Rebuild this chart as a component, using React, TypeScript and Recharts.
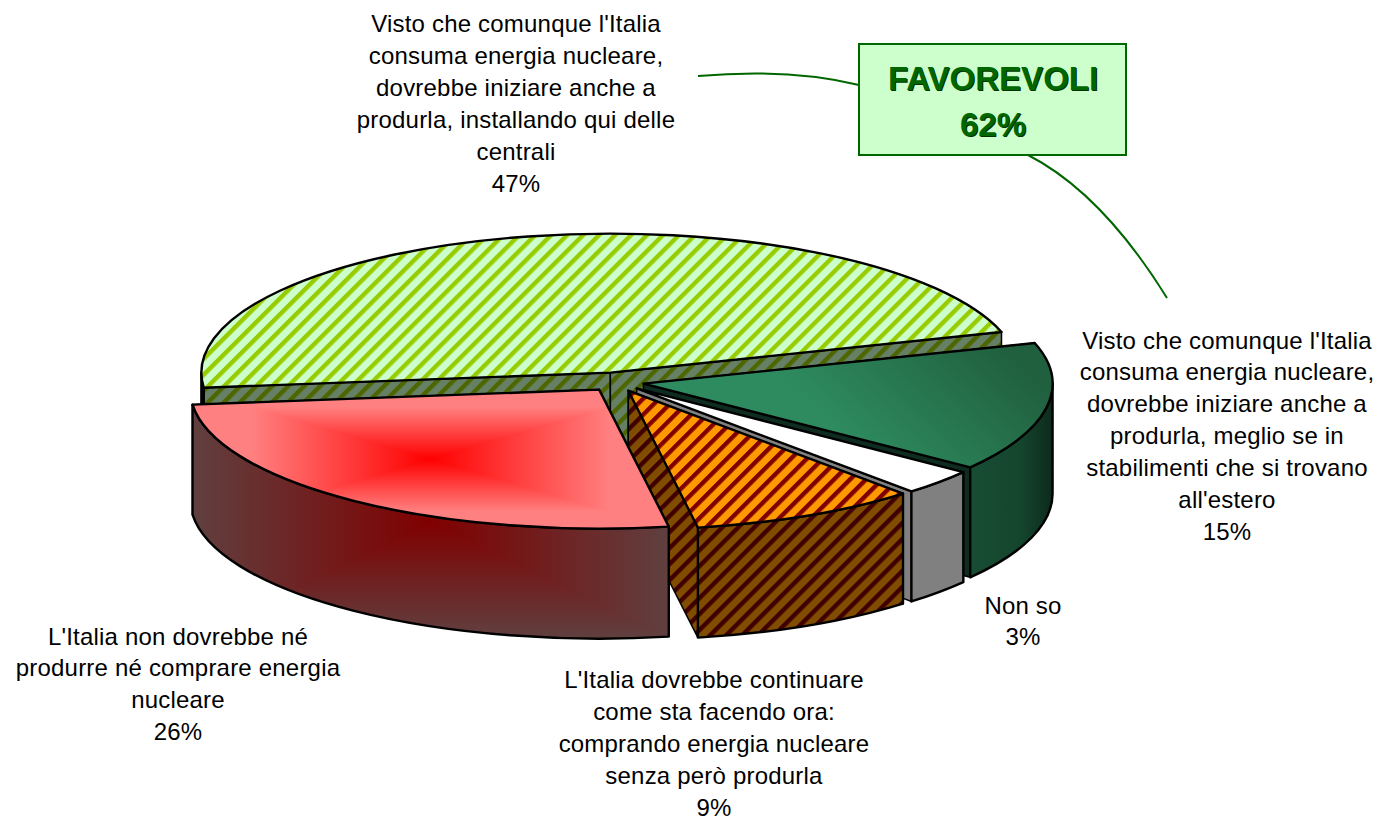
import React from 'react';
import { PieChart, Pie } from 'recharts';

const sliceNames = ['Produrre in Italia', 'Produrre all\'estero', 'Non so', 'Continuare a comprare', 'Né produrre né comprare'];
const sliceValues = [47, 15, 3, 9, 26];
const sliceLabels = [
  ['Visto che comunque l\'Italia', 'consuma energia nucleare,', 'dovrebbe iniziare anche a', 'produrla, installando qui delle', 'centrali', '47%'],
  ['Visto che comunque l\'Italia', 'consuma energia nucleare,', 'dovrebbe iniziare anche a', 'produrla, meglio se in', 'stabilimenti che si trovano', 'all\'estero', '15%'],
  ['Non so', '3%'],
  ['L\'Italia dovrebbe continuare', 'come sta facendo ora:', 'comprando energia nucleare', 'senza però produrla', '9%'],
  ['L\'Italia non dovrebbe né', 'produrre né comprare energia', 'nucleare', '26%'],
];
const calloutLines = ['FAVOREVOLI', '62%'];

const data = sliceNames.map((name, i) => ({ name, value: sliceValues[i] }));

const WIDTH = 1379;
const HEIGHT = 817;
const FONT = '"Liberation Sans", Arial, sans-serif';
const TILT = 0.34;
const DEPTH = 110;
const EXPLODE = 28;

const labelAnchors = [
  { x: 516, y: 32 },
  { x: 1227, y: 348.5 },
  { x: 1023, y: 613.5 },
  { x: 714, y: 688 },
  { x: 178, y: 644.5 },
];

type Paint = { top: string; wall: string; face: string };
const paints: Paint[] = [
  { top: 'url(#hatchGreen)', wall: 'url(#hatchGreenDark)', face: 'url(#hatchGreenDark)' },
  { top: 'url(#greenTop)', wall: 'url(#greenWall)', face: '#0e2d20' },
  { top: '#ffffff', wall: '#808080', face: '#808080' },
  { top: 'url(#hatchOrange)', wall: 'url(#hatchBrown)', face: 'url(#hatchBrown)' },
  { top: 'path:#ff0000:#ff8080:0.75', wall: 'path:#800000:#604040:1', face: '#604040' },
];

const rad = (a: number) => (a * Math.PI) / 180;

// excel style "rectangle" path gradient: four triangles meeting in the middle of the bbox
const PathFill = ({ id, d, box, from, to, knee }: any) => {
  const [x0, y0, x1, y1] = box;
  const mx = (x0 + x1) / 2;
  const my = (y0 + y1) / 2;
  const grads = [
    { k: 't', c: [mx, my, mx, y0], pts: `${x0},${y0} ${x1},${y0} ${mx},${my}` },
    { k: 'b', c: [mx, my, mx, y1], pts: `${x0},${y1} ${x1},${y1} ${mx},${my}` },
    { k: 'l', c: [mx, my, x0, my], pts: `${x0},${y0} ${x0},${y1} ${mx},${my}` },
    { k: 'r', c: [mx, my, x1, my], pts: `${x1},${y0} ${x1},${y1} ${mx},${my}` },
  ];
  return (
    <g>
      <defs>
        <clipPath id={`${id}-clip`}>
          <path d={d} />
        </clipPath>
        {grads.map((g) => (
          <linearGradient key={g.k} id={`${id}-${g.k}`} gradientUnits="userSpaceOnUse" x1={g.c[0]} y1={g.c[1]} x2={g.c[2]} y2={g.c[3]}>
            <stop offset="0" stopColor={from} />
            <stop offset={knee} stopColor={to} />
          </linearGradient>
        ))}
      </defs>
      <g clipPath={`url(#${id}-clip)`}>
        {grads.map((g) => (
          <polygon key={g.k} points={g.pts} fill={`url(#${id}-${g.k})`} shapeRendering="crispEdges" />
        ))}
      </g>
    </g>
  );
};

const Painted = ({ id, d, paint, box }: any) => {
  if (paint.startsWith('path:')) {
    const [, from, to, knee] = paint.split(':');
    return (
      <>
        <PathFill id={id} d={d} box={box} from={from} to={to} knee={Number(knee)} />
        <path d={d} fill="none" stroke="#000" strokeWidth={2.4} strokeLinejoin="round" />
      </>
    );
  }
  return <path d={d} fill={paint} stroke="#000" strokeWidth={2.4} strokeLinejoin="round" />;
};

const Slice3D = (props: any) => {
  const { cx, cy, outerRadius: R, startAngle, endAngle, payload } = props;
  const name = props.name ?? payload?.name;
  const idx = sliceNames.indexOf(name);
  const paint = paints[idx];
  const mid = (startAngle + endAngle) / 2;
  const ox = cx + EXPLODE * Math.cos(rad(mid));
  const oy = cy - EXPLODE * TILT * Math.sin(rad(mid));
  const ry = R * TILT;
  const pt = (a: number, drop = 0) => [ox + R * Math.cos(rad(a)), oy - ry * Math.sin(rad(a)) + drop];
  const P = (p: number[]) => `${p[0].toFixed(2)} ${p[1].toFixed(2)}`;
  const arc = (a: number, b: number, drop = 0, sweep = 1) =>
    `A ${R} ${ry} 0 ${Math.abs(a - b) > 180 ? 1 : 0} ${sweep} ${P(pt(b, drop))}`;

  const top = `M ${P([ox, oy])} L ${P(pt(startAngle))} ${arc(startAngle, endAngle)} Z`;
  const face = (a: number) => `M ${P([ox, oy])} L ${P(pt(a))} L ${P(pt(a, DEPTH))} L ${P([ox, oy + DEPTH])} Z`;

  // outer wall shows only where the rim faces the viewer
  const walls: string[] = [];
  [[360, 180], [0, -180]].forEach(([hi, lo]) => {
    const a = Math.min(startAngle, hi);
    const b = Math.max(endAngle, lo);
    if (a > b) {
      walls.push(`M ${P(pt(a))} ${arc(a, b)} L ${P(pt(b, DEPTH))} ${arc(b, a, DEPTH, 0)} Z`);
    }
  });

  // bounding boxes for the path gradients
  const sample: number[][] = [[ox, oy], pt(startAngle)];
  for (let a = endAngle; a <= startAngle; a += 1) sample.push(pt(a));
  const xs = sample.map((p) => p[0]);
  const ys = sample.map((p) => p[1]);
  const topBox = [Math.min(...xs) - 1, Math.min(...ys), Math.max(...xs) + 1, Math.max(...ys)];
  const wallBox = [topBox[0], pt(endAngle)[1], topBox[2], topBox[3] + DEPTH];

  return (
    <g>
      <path d={face(startAngle)} fill={paint.face} stroke="#000" strokeWidth={1.5} />
      <path d={face(endAngle)} fill={paint.face} stroke="#000" strokeWidth={1.5} />
      {walls.map((d, i) => (
        <Painted key={i} id={`wall-${idx}-${i}`} d={d} paint={paint.wall} box={wallBox} />
      ))}
      <Painted id={`top-${idx}`} d={top} paint={paint.top} box={topBox} />
    </g>
  );
};

const renderLabel = ({ index }: any) => {
  const anchor = labelAnchors[index];
  return (
    <text key={index} textAnchor="middle" fontFamily={FONT} fontSize={24} letterSpacing={0.2} fill="#000">
      {sliceLabels[index].map((line, i) => (
        <tspan key={i} x={anchor.x} y={anchor.y + i * 31.9}>
          {line}
        </tspan>
      ))}
    </text>
  );
};

const Hatch = ({ id, bg, fg }: { id: string; bg: string; fg: string }) => (
  <pattern id={id} patternUnits="userSpaceOnUse" width={11.3} height={11.3} patternTransform="rotate(45)">
    <rect width={11.3} height={11.3} fill={bg} />
    <rect width={4.4} height={11.3} fill={fg} />
  </pattern>
);

export default function App() {
  return (
    <div style={{ position: 'absolute', left: 0, top: 0, width: WIDTH, height: HEIGHT, background: '#fff' }}>
      <PieChart width={WIDTH} height={HEIGHT} margin={{ top: 0, right: 0, bottom: 0, left: 0 }}>
        <defs>
          <Hatch id="hatchGreen" bg="#ccffcc" fg="#99cc00" />
          <Hatch id="hatchGreenDark" bg="#668066" fg="#4d6600" />
          <Hatch id="hatchOrange" bg="#ff9900" fg="#800000" />
          <Hatch id="hatchBrown" bg="#804d00" fg="#400000" />
          <linearGradient id="greenTop" gradientUnits="userSpaceOnUse" x1={880} y1={470} x2={1000} y2={345}>
            <stop offset="0" stopColor="#2e8b5f" />
            <stop offset="1" stopColor="#20603f" />
          </linearGradient>
          <linearGradient id="greenWall" gradientUnits="userSpaceOnUse" x1={972} y1={0} x2={1053} y2={0}>
            <stop offset="0" stopColor="#174d33" />
            <stop offset="0.6" stopColor="#15452d" />
            <stop offset="1" stopColor="#0d2a1c" />
          </linearGradient>
        </defs>
        <path d="M 698 76 Q 790 68 859 85" fill="none" stroke="#006600" strokeWidth={2} />
        <path d="M 1028 155 Q 1102 193 1167 298" fill="none" stroke="#006600" strokeWidth={2} />
        <rect x={859} y={44} width={267} height={111} fill="#ccffcc" stroke="#006600" strokeWidth={2} />
        {calloutLines.map((line, i) => (
          <g key={line} fontFamily={FONT} fontSize={33} fontWeight="bold" textAnchor="middle">
            <text x={994} y={91 + i * 46} fill="#003300">{line}</text>
            <text x={993} y={90 + i * 46} fill="#006600">{line}</text>
          </g>
        ))}
        <Pie
          data={data}
          dataKey="value"
          nameKey="name"
          cx={616}
          cy={382}
          innerRadius={0}
          outerRadius={409}
          startAngle={186.2}
          endAngle={-173.8}
          isAnimationActive={false}
          shape={Slice3D}
          label={renderLabel}
          labelLine={false}
          stroke="none"
        />
      </PieChart>
    </div>
  );
}
